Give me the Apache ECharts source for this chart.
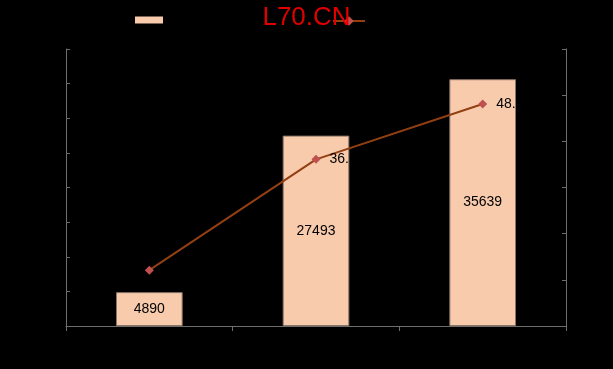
<!DOCTYPE html>
<html>
<head>
<meta charset="utf-8">
<script src="https://cdn.jsdelivr.net/npm/echarts@6/dist/echarts.min.js"></script>
<style>
html,body{margin:0;padding:0;background:#000;}
#chart{width:613px;height:369px;}
</style>
</head>
<body>
<div id="chart"></div>
<script>
var categories = ['2008年', '2009年', '2010年'];
var barName = '销售额';
var lineName = '增长率';
var barValues = [4890, 27493, 35639];
var lineValues = [12.1, 36.1, 48.1];
var leftTicks = {min: 0, max: 40000, interval: 5000};
var rightTicks = {min: 0, max: 60, interval: 10};

var axisColor = '#6e6e6e';
var chart = echarts.init(document.getElementById('chart'));
chart.setOption({
  backgroundColor: '#000000',
  animation: false,
  title: {
    text: 'L70.CN',
    left: 'center',
    top: 0,
    textStyle: {color: '#e00000', fontSize: 26, fontWeight: 'normal', fontFamily: 'Liberation Sans'}
  },
  legend: [
    {data: [{name: barName, icon: 'rect'}], left: 135, top: 14, padding: 0, itemWidth: 28, itemHeight: 7, itemGap: 0,
     itemStyle: {borderWidth: 0},
     textStyle: {color: '#000000', fontSize: 12}},
    {data: [lineName], left: 332, top: 15, padding: 0, itemWidth: 32, itemHeight: 12,
     textStyle: {color: '#000000', fontSize: 12}}
  ],
  grid: {left: 66, right: 47, top: 49, bottom: 43},
  xAxis: {
    type: 'category',
    data: categories,
    axisLine: {lineStyle: {color: axisColor, width: 1}},
    axisTick: {show: true, length: 5, lineStyle: {color: axisColor}},
    axisLabel: {color: '#000000'},
    splitLine: {show: false}
  },
  yAxis: [
    {type: 'value', min: leftTicks.min, max: leftTicks.max, interval: leftTicks.interval,
     axisLine: {show: true, lineStyle: {color: axisColor}},
     axisTick: {show: true, inside: true, length: 4, lineStyle: {color: axisColor}},
     axisLabel: {color: '#000000'},
     splitLine: {show: false}},
    {type: 'value', min: rightTicks.min, max: rightTicks.max, interval: rightTicks.interval,
     position: 'right',
     axisLine: {show: true, lineStyle: {color: axisColor}},
     axisTick: {show: true, inside: true, length: 4, lineStyle: {color: axisColor}},
     axisLabel: {color: '#000000'},
     splitLine: {show: false}}
  ],
  series: [
    {
      name: barName,
      type: 'bar',
      data: barValues,
      barWidth: '40%',
      itemStyle: {color: '#f8cbad', borderColor: '#8a7466', borderWidth: 1},
      label: {show: true, position: 'inside', color: '#000000', fontSize: 14, fontFamily: 'Liberation Sans'}
    },
    {
      name: lineName,
      type: 'line',
      yAxisIndex: 1,
      data: lineValues,
      symbol: 'diamond',
      symbolSize: 9,
      lineStyle: {color: '#923f12', width: 2},
      itemStyle: {color: '#c0504d'},
      label: {show: true, position: 'right', distance: 9, color: '#000000', fontSize: 14,
              fontFamily: 'Liberation Sans', width: 22, overflow: 'truncate', ellipsis: ''}
    }
  ]
});
</script>
</body>
</html>
